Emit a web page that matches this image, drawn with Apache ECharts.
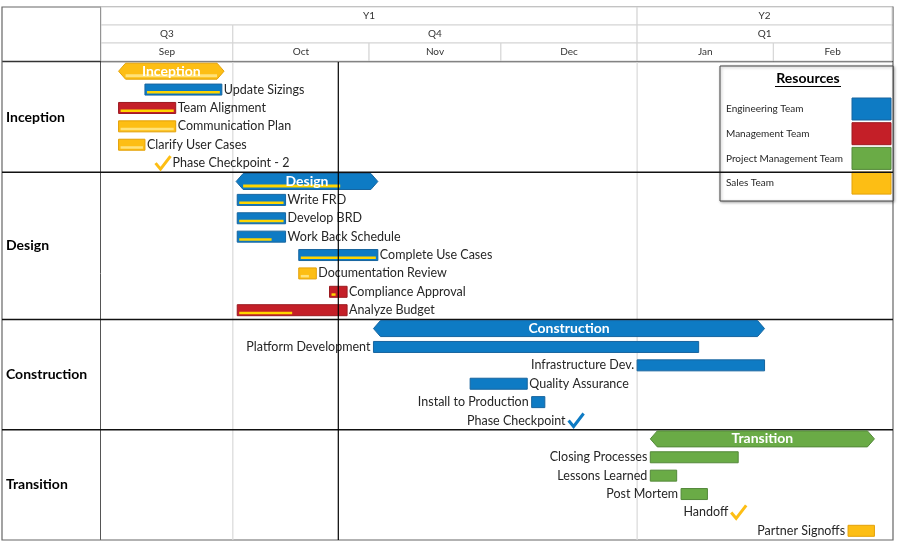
<!DOCTYPE html>
<html>
<head>
<meta charset="utf-8">
<script src="https://cdn.jsdelivr.net/npm/echarts@6/dist/echarts.min.js"></script>
<style>
  html, body { margin: 0; padding: 0; background: #fff; }
  #chart { width: 900px; height: 547px; }
</style>
</head>
<body>
<div id="chart"></div>
<script>
// header bands
const yearLabels = ['Y1', 'Y2'];
const yearStarts = ['2022-09-01', '2023-01-01'];
const yearEnds = ['2023-01-01', '2023-02-28'];
const quarterLabels = ['Q3', 'Q4', 'Q1'];
const quarterStarts = ['2022-09-01', '2022-10-01', '2023-01-01'];
const quarterEnds = ['2022-10-01', '2023-01-01', '2023-02-28'];
const monthLabels = ['Sep', 'Oct', 'Nov', 'Dec', 'Jan', 'Feb'];
const monthStarts = ['2022-09-01', '2022-10-01', '2022-11-01', '2022-12-01', '2023-01-01', '2023-02-01'];
const monthEnds = ['2022-10-01', '2022-11-01', '2022-12-01', '2023-01-01', '2023-02-01', '2023-02-28'];

// resources
const teamNames = ['Engineering Team', 'Management Team', 'Project Management Team', 'Sales Team'];
const teamColors = ['#0e7bc4', '#c41f28', '#6aab46', '#fdbe14'];
const teamBorders = ['#17659f', '#9c1a20', '#54893a', '#e3a108'];

// phases (sections of rows)
const phaseNames = ['Inception', 'Design', 'Construction', 'Transition'];
const phaseFirstRow = [0, 6, 14, 20];
const phaseRowCount = [6, 8, 6, 6];

// one entry per row
const rowNames = [
  'Inception', 'Update Sizings', 'Team Alignment', 'Communication Plan', 'Clarify User Cases', 'Phase Checkpoint - 2',
  'Design', 'Write FRD', 'Develop BRD', 'Work Back Schedule', 'Complete Use Cases', 'Documentation Review', 'Compliance Approval', 'Analyze Budget',
  'Construction', 'Platform Development', 'Infrastructure Dev.', 'Quality Assurance', 'Install to Production', 'Phase Checkpoint',
  'Transition', 'Closing Processes', 'Lessons Learned', 'Post Mortem', 'Handoff', 'Partner Signoffs'
];
const rowKinds = [
  'phase', 'task', 'task', 'task', 'task', 'milestone',
  'phase', 'task', 'task', 'task', 'task', 'task', 'task', 'task',
  'phase', 'task', 'task', 'task', 'task', 'milestone',
  'phase', 'task', 'task', 'task', 'milestone', 'task'
];
const rowStarts = [
  '2022-09-05', '2022-09-11', '2022-09-05', '2022-09-05', '2022-09-05', '2022-09-15',
  '2022-10-01T18:00', '2022-10-02', '2022-10-02', '2022-10-02', '2022-10-16', '2022-10-16', '2022-10-23', '2022-10-02',
  '2022-11-02', '2022-11-02', '2023-01-01', '2022-11-24', '2022-12-08', '2022-12-18',
  '2023-01-04', '2023-01-04', '2023-01-04', '2023-01-11', '2023-01-24', '2023-02-18'
];
const rowEnds = [
  '2022-09-29', '2022-09-28T12:00', '2022-09-18', '2022-09-18', '2022-09-11', '2022-09-15',
  '2022-11-03', '2022-10-13', '2022-10-13', '2022-10-13', '2022-11-03', '2022-10-20', '2022-10-27', '2022-10-27',
  '2023-01-30', '2023-01-15', '2023-01-30', '2022-12-07', '2022-12-11', '2022-12-18',
  '2023-02-24', '2023-01-24', '2023-01-10', '2023-01-17', '2023-01-24', '2023-02-24'
];
const rowTeams = [
  3, 0, 1, 3, 3, 3,
  0, 0, 0, 0, 0, 3, 1, 1,
  0, 0, 0, 0, 0, 0,
  2, 2, 2, 2, 3, 3
];
const rowProgress = [
  1, 1, 1, 1, 1, 0,
  0.76, 1, 1, 0.73, 1, 0.6, 0.3, 0.5,
  0, 0, 0, 0, 0, 0,
  0, 0, 0, 0, 0, 0
];
const rowLabelSide = [
  'in', 'right', 'right', 'right', 'right', 'right',
  'in', 'right', 'right', 'right', 'right', 'right', 'right', 'right',
  'in', 'left', 'left', 'right', 'left', 'left',
  'in', 'left', 'left', 'left', 'left', 'left'
];
const todayDate = '2022-10-25';

const t = s => new Date(s.length === 10 ? s + 'T00:00:00' : s).getTime();
const axisMin = t('2022-09-01');
const axisMax = t('2023-02-28');
const ROWS = rowNames.length;
const FONT = 'Lato, "Noto Sans", sans-serif';

const chart = echarts.init(document.getElementById('chart'));

// header cells: [start, end, level, labelIndex]
const headerData = [];
yearLabels.forEach((l, i) => headerData.push([t(yearStarts[i]), t(yearEnds[i]), 0, i]));
quarterLabels.forEach((l, i) => headerData.push([t(quarterStarts[i]), t(quarterEnds[i]), 1, i]));
monthLabels.forEach((l, i) => headerData.push([t(monthStarts[i]), t(monthEnds[i]), 2, i]));
const headerLabels = [yearLabels, quarterLabels, monthLabels];

function renderHeader(params, api) {
  const level = api.value(2);
  const p0 = api.coord([api.value(0), level]);
  const p1 = api.coord([api.value(1), level + 1]);
  return {
    type: 'group',
    children: [
      { type: 'rect', shape: { x: p0[0], y: p0[1], width: p1[0] - p0[0], height: p1[1] - p0[1] },
        style: { fill: '#fff', stroke: '#d4d4d4', lineWidth: 1 } },
      { type: 'text', x: (p0[0] + p1[0]) / 2, y: (p0[1] + p1[1]) / 2,
        style: { text: headerLabels[level][api.value(3)], fill: '#333', font: '10px ' + FONT,
                 align: 'center', verticalAlign: 'middle' } }
    ]
  };
}

function renderGridLine(params, api) {
  const a = api.coord([api.value(0), 0]);
  const b = api.coord([api.value(0), ROWS]);
  return { type: 'line', shape: { x1: a[0], y1: a[1], x2: b[0], y2: b[1] },
           style: { stroke: '#d9d9d9', lineWidth: 1.2 } };
}

function renderSection(params, api) {
  const i = api.value(0);
  const cs = params.coordSys;
  const top = api.coord([axisMin, phaseFirstRow[i]])[1];
  const bottom = api.coord([axisMin, phaseFirstRow[i] + phaseRowCount[i]])[1];
  const children = [
    { type: 'text', x: 6, y: (top + bottom) / 2,
      style: { text: phaseNames[i], fill: '#000', font: 'bold 14px ' + FONT, align: 'left', verticalAlign: 'middle' } }
  ];
  if (i < phaseNames.length - 1) {
    children.push({ type: 'line', shape: { x1: 2, y1: bottom, x2: cs.x + cs.width + 1, y2: bottom },
                    style: { stroke: '#111', lineWidth: 1.5 } });
  }
  return { type: 'group', children: children };
}

function renderRow(params, api) {
  const i = api.value(2);
  const kind = rowKinds[i];
  const x0 = api.coord([api.value(0), 0])[0];
  const x1 = api.coord([api.value(1), 0])[0];
  const yc = api.coord([api.value(0), i + 0.5])[1];
  const team = rowTeams[i];
  const color = teamColors[team];
  const border = teamBorders[team];
  const progColor = team === 3 ? '#ffe27a' : '#ffd500';
  const p = rowProgress[i];
  const labelFont = '12.5px ' + FONT;
  const children = [];

  if (kind === 'phase') {
    const hh = 8, tip = 7;
    children.push({ type: 'polygon',
      shape: { points: [[x0, yc], [x0 + tip, yc - hh], [x1 - tip, yc - hh], [x1, yc], [x1 - tip, yc + hh], [x0 + tip, yc + hh]] },
      style: { fill: color, stroke: border, lineWidth: 1 } });
    if (p > 0) {
      children.push({ type: 'rect',
        shape: { x: x0 + tip, y: yc + 3, width: (x1 - x0 - 2 * tip) * p, height: 3 },
        style: { fill: progColor } });
    }
    children.push({ type: 'text', x: (x0 + x1) / 2, y: yc,
      style: { text: rowNames[i], fill: '#fff', font: 'bold 14px ' + FONT, align: 'center', verticalAlign: 'middle' } });
  } else if (kind === 'task') {
    children.push({ type: 'rect', shape: { x: x0, y: yc - 5.5, width: x1 - x0, height: 11 },
      style: { fill: color, stroke: border, lineWidth: 1 } });
    if (p > 0) {
      children.push({ type: 'rect', shape: { x: x0 + 2, y: yc + 1.5, width: (x1 - x0 - 4) * p, height: 2.5 },
        style: { fill: progColor } });
    }
    const right = rowLabelSide[i] === 'right';
    children.push({ type: 'text', x: right ? x1 + 2 : x0 - 3, y: yc,
      style: { text: rowNames[i], fill: '#262626', font: labelFont, align: right ? 'left' : 'right', verticalAlign: 'middle' } });
  } else {
    children.push({ type: 'polyline',
      shape: { points: [[x0 - 7, yc], [x0 - 2, yc + 6], [x0 + 8, yc - 7]] },
      style: { stroke: color, lineWidth: 3, fill: null, lineJoin: 'miter' } });
    const right = rowLabelSide[i] === 'right';
    children.push({ type: 'text', x: right ? x0 + 10 : x0 - 10, y: yc,
      style: { text: rowNames[i], fill: '#262626', font: labelFont, align: right ? 'left' : 'right', verticalAlign: 'middle' } });
  }
  return { type: 'group', children: children };
}

function renderToday(params, api) {
  const a = api.coord([api.value(0), 0]);
  const b = api.coord([api.value(0), ROWS]);
  return { type: 'line', shape: { x1: a[0], y1: a[1], x2: b[0], y2: b[1] },
           style: { stroke: '#000', lineWidth: 1.2 } };
}

// legend box
const legendChildren = [
  { type: 'rect', shape: { x: 720, y: 66, width: 173, height: 135 },
    style: { fill: '#fff', stroke: '#444', lineWidth: 1, shadowBlur: 3, shadowColor: 'rgba(0,0,0,0.35)', shadowOffsetX: 1, shadowOffsetY: 1 } },
  { type: 'text', x: 808, y: 78,
    style: { text: 'Resources', fill: '#000', font: 'bold 14px ' + FONT, align: 'center', verticalAlign: 'middle' } },
  { type: 'line', shape: { x1: 775, y1: 86.5, x2: 841, y2: 86.5 }, style: { stroke: '#000', lineWidth: 1.2 } }
];
teamNames.forEach((name, i) => {
  const cy = 109 + i * 24.7;
  legendChildren.push({ type: 'text', x: 726, y: cy,
    style: { text: name, fill: '#262626', font: '10px ' + FONT, align: 'left', verticalAlign: 'middle' } });
  legendChildren.push({ type: 'rect', shape: { x: 852, y: cy - 11, width: 39, height: 22 },
    style: { fill: teamColors[i], stroke: teamBorders[i], lineWidth: 1 } });
});

chart.setOption({
  animation: false,
  grid: [
    { left: 101, right: 8, top: 7, height: 54 },
    { left: 101, right: 8, top: 62, bottom: 7 }
  ],
  xAxis: [
    { type: 'time', gridIndex: 0, min: axisMin, max: axisMax, show: false },
    { type: 'time', gridIndex: 1, min: axisMin, max: axisMax, show: false }
  ],
  yAxis: [
    { type: 'value', gridIndex: 0, min: 0, max: 3, inverse: true, show: false },
    { type: 'value', gridIndex: 1, min: 0, max: ROWS, inverse: true, show: false }
  ],
  graphic: [
    { type: 'group', z: 60, silent: true, children: [
      { type: 'line', shape: { x1: 100.5, y1: 7, x2: 100.5, y2: 540 }, style: { stroke: '#555', lineWidth: 1 } },
      { type: 'line', shape: { x1: 2, y1: 61.5, x2: 893, y2: 61.5 }, style: { stroke: '#333', lineWidth: 1.3 } },
      { type: 'rect', shape: { x: 2, y: 7, width: 891, height: 533 }, style: { fill: 'none', stroke: '#666', lineWidth: 1.2 } },
      { type: 'line', shape: { x1: 101, y1: 25, x2: 893, y2: 25 }, style: { stroke: '#777', lineWidth: 1 } }
    ] },
    { type: 'group', z: 50, children: legendChildren }
  ],
  series: [
    { type: 'custom', xAxisIndex: 0, yAxisIndex: 0, renderItem: renderHeader,
      encode: { x: [0, 1], y: 2 }, data: headerData, z: 1 },
    { type: 'custom', xAxisIndex: 1, yAxisIndex: 1, renderItem: renderGridLine,
      encode: { x: 0 }, data: quarterStarts.slice(1).map(s => [t(s)]), z: 1 },
    { type: 'custom', xAxisIndex: 1, yAxisIndex: 1, renderItem: renderSection,
      encode: { x: -1, y: -1 }, data: phaseNames.map((n, i) => [i]), z: 2 },
    { type: 'custom', xAxisIndex: 1, yAxisIndex: 1, renderItem: renderRow,
      encode: { x: [0, 1], y: 2 }, data: rowNames.map((n, i) => [t(rowStarts[i]), t(rowEnds[i]), i]), z: 3 },
    { type: 'custom', xAxisIndex: 1, yAxisIndex: 1, renderItem: renderToday,
      encode: { x: 0 }, data: [[t(todayDate)]], z: 4 }
  ]
});
</script>
</body>
</html>
